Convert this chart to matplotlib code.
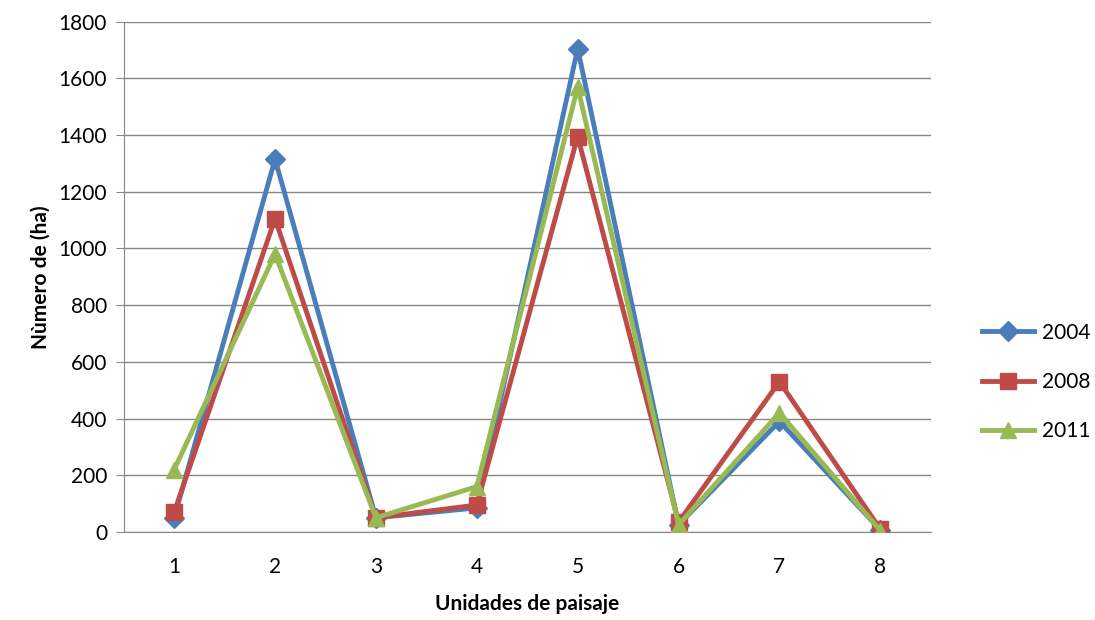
import matplotlib
matplotlib.use("Agg")
import matplotlib.pyplot as plt

units = [1, 2, 3, 4, 5, 6, 7, 8]
ha_2004 = [50, 1315, 50, 85, 1705, 25, 390, 7]
ha_2008 = [70, 1105, 50, 95, 1395, 35, 530, 10]
ha_2011 = [220, 980, 50, 160, 1570, 25, 420, 5]
yticks = [0, 200, 400, 600, 800, 1000, 1200, 1400, 1600, 1800]

plt.rcParams["font.family"] = ["Lato", "DejaVu Sans"]

fig = plt.figure(figsize=(10.95, 6.2), dpi=100)
ax = fig.add_axes([0.113, 0.142, 0.737, 0.823])

series = [
    ("2004", ha_2004, "#4A7EBB", "D", 10),
    ("2008", ha_2008, "#BE4B48", "s", 11),
    ("2011", ha_2011, "#98B954", "^", 12),
]
for name, vals, color, marker, ms in series:
    ax.plot(units, vals, color=color, lw=3.5, marker=marker, ms=ms,
            label=name, zorder=3)

ax.set_xlim(0.5, 8.5)
ax.set_ylim(0, 1800)
ax.set_yticks(yticks)
ax.set_xticks(units)
ax.tick_params(axis="x", length=0, labelsize=15, pad=18)
ax.tick_params(axis="y", length=6, color="#868686", labelsize=15, pad=6)
ax.grid(axis="y", color="#868686", lw=1)
ax.set_axisbelow(True)
for side in ["top", "right"]:
    ax.spines[side].set_visible(False)
for side in ["left", "bottom"]:
    ax.spines[side].set_color("#868686")

ax.set_xlabel("Unidades de paisaje", fontsize=15, fontweight="bold", labelpad=12)
ax.set_ylabel("Nùmero de (ha)", fontsize=15, fontweight="bold", labelpad=6)

ax.legend(loc="center left", bbox_to_anchor=(1.04, 0.294), frameon=False,
          fontsize=15, handlelength=2.5, labelspacing=1.4, handletextpad=0.4)

fig.savefig("out.png", dpi=100)
